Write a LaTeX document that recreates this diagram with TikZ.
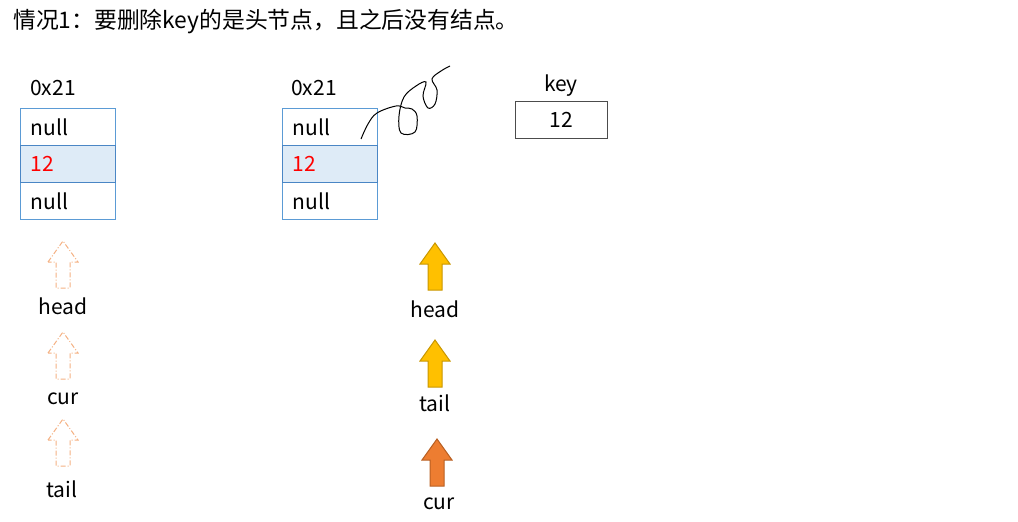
\documentclass[tikz,border=0pt]{standalone}
\usepackage{fontspec}
\setmainfont{Noto Sans CJK SC}
\definecolor{cellblue}{HTML}{5B9BD5}
\definecolor{cellfill}{HTML}{DEEBF7}
\definecolor{lineblue}{HTML}{4A86C5}
\definecolor{dashor}{HTML}{F4B183}
\definecolor{yel}{HTML}{FFC000}
\definecolor{yelb}{HTML}{C99700}
\definecolor{org}{HTML}{ED7D31}
\definecolor{orgb}{HTML}{B85F22}
\begin{document}
\begin{tikzpicture}[x=1pt,y=-1pt,
  lbl/.style={font=\fontsize{21}{25}\selectfont, inner sep=0pt},
  cell/.style={draw=cellblue, line width=1pt, minimum height=37pt, text width=75pt, inner xsep=10pt, inner ysep=0pt, align=left, anchor=north west, font=\fontsize{21}{25}\selectfont},
  midcell/.style={cell, fill=cellfill, draw=lineblue, line width=1.3pt},
  keybox/.style={draw=black!70, line width=1pt, minimum width=92pt, minimum height=37pt, inner sep=0pt, font=\fontsize{21}{25}\selectfont},
  dasharr/.style={draw=dashor, line width=1pt, dash pattern=on 5pt off 2pt on 1pt off 2pt, fill=none},
  yelarr/.style={draw=yelb, line width=1pt, fill=yel},
  orgarr/.style={draw=orgb, line width=1pt, fill=org},
  uparr/.pic={\path[pic actions] (-15,21)--(0,0)--(15,21)--(7,21)--(7,47)--(-7,47)--(-7,21)--cycle;}
]
\useasboundingbox (0,0) rectangle (1018,522);
\node[anchor=west, inner sep=0pt, font=\fontsize{22.8}{27}\selectfont] (title) at (13,22) {情况1：要删除key的是头节点，且之后没有结点。};

% left list
\node[lbl] (addr1) at (53,88) {0x21};
\node[cell] (l1) at (20,108) {null};
\node[cell] (l3) at (20,182) {null};
\node[midcell, text=red] (l2) at (20,145) {12};

% middle list
\node[lbl] (addr2) at (314,88) {0x21};
\node[cell] (m1) at (282,108) {null};
\node[cell] (m3) at (282,182) {null};
\node[midcell, text=red] (m2) at (282,145) {12};

% key
\node[lbl] (keylbl) at (561,86) {key};
\node[keybox] (key) at (561,119.5) {12};

% scribble
\draw[line width=1pt, black] plot[smooth, tension=0.6] coordinates {(361,139) (368,124) (377,113) (396,106) (405,108) (412,109) (417,116) (415,132) (401,133) (399,116) (404,97) (416,86) (426,82) (423,96) (428,108) (435,104) (437,90) (432,79) (441,71) (450,66)};

% left dashed arrows
\pic[dasharr] at (63,241) {uparr};
\node[lbl] (h1) at (63,306) {head};
\pic[dasharr] at (63,332) {uparr};
\node[lbl] (c1) at (63,399) {cur};
\pic[dasharr] at (63,419) {uparr};
\node[lbl] (t1) at (62,489) {tail};

% right arrows
\pic[yelarr] at (435,243) {uparr};
\node[lbl] (h2) at (435,309) {head};
\pic[yelarr] at (435,340) {uparr};
\node[lbl] (t2) at (435,403) {tail};
\pic[orgarr] at (437,439) {uparr};
\node[lbl] (c2) at (439,504) {cur};
\end{tikzpicture}
\end{document}
